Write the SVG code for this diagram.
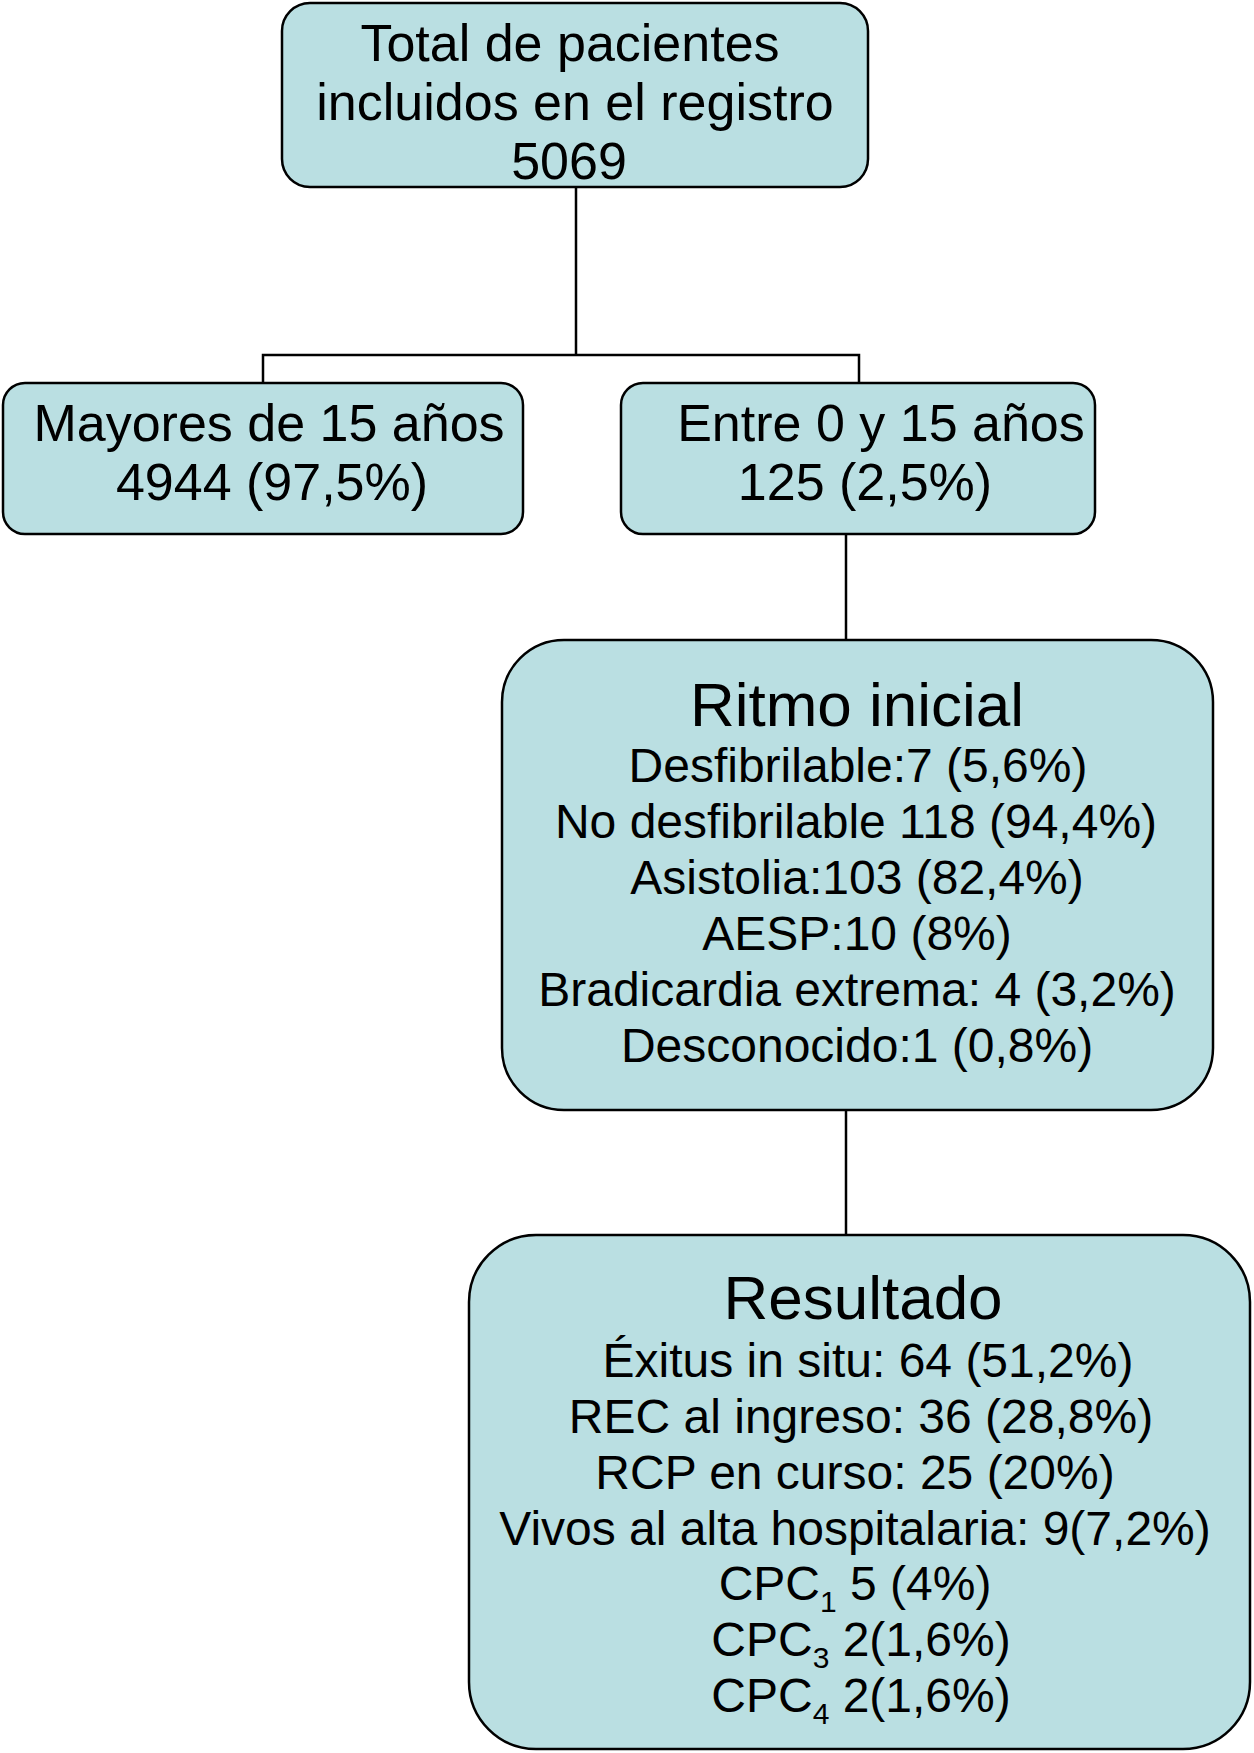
<svg xmlns="http://www.w3.org/2000/svg" width="1254" height="1753" viewBox="0 0 1254 1753">
<style>
.box{fill:#badfe2;stroke:#000;stroke-width:2.5}
.t{font-family:"Liberation Sans",Arial,sans-serif;font-size:52px;fill:#000;text-anchor:middle}
.b{font-family:"Liberation Sans",Arial,sans-serif;font-size:48px;fill:#000;text-anchor:middle}
.h{font-family:"Liberation Sans",Arial,sans-serif;font-size:62px;fill:#000;text-anchor:middle}
.sub{font-size:30px}
.c{fill:none;stroke:#000;stroke-width:2.5}
</style>
<rect width="1254" height="1753" fill="#fff"/>
<g id="connectors">
<path class="c" d="M576 187 V355 M263 383 V355 H859 V383"/>
<path class="c" d="M846 534 V640"/>
<path class="c" d="M846 1110 V1235"/>
</g>
<g id="total">
<rect class="box" x="282" y="3" width="586" height="184" rx="28"/>
<text class="t" x="570" y="61">Total de pacientes</text>
<text class="t" x="575" y="120">incluidos en el registro</text>
<text class="t" x="569" y="179">5069</text>
</g>
<g id="mayores">
<rect class="box" x="3" y="383" width="520" height="151" rx="22"/>
<text class="t" x="269" y="441">Mayores de 15 años</text>
<text class="t" x="272" y="500">4944 (97,5%)</text>
</g>
<g id="entre">
<rect class="box" x="621" y="383" width="474" height="151" rx="22"/>
<text class="t" x="881" y="441">Entre 0 y 15 años</text>
<text class="t" x="865" y="500">125 (2,5%)</text>
</g>
<g id="ritmo">
<rect class="box" x="502" y="640" width="711" height="470" rx="62"/>
<text class="h" x="857" y="726">Ritmo inicial</text>
<text class="b" x="858" y="782">Desfibrilable:7 (5,6%)</text>
<text class="b" x="856" y="838">No desfibrilable 118 (94,4%)</text>
<text class="b" x="857" y="894">Asistolia:103 (82,4%)</text>
<text class="b" x="857" y="950">AESP:10 (8%)</text>
<text class="b" x="857" y="1006">Bradicardia extrema: 4 (3,2%)</text>
<text class="b" x="857" y="1062">Desconocido:1 (0,8%)</text>
</g>
<g id="resultado">
<rect class="box" x="469" y="1235" width="781" height="514" rx="67"/>
<text class="h" x="863" y="1319">Resultado</text>
<text class="b" x="868" y="1377">Éxitus in situ: 64 (51,2%)</text>
<text class="b" x="861" y="1433">REC al ingreso: 36 (28,8%)</text>
<text class="b" x="855" y="1489">RCP en curso: 25 (20%)</text>
<text class="b" x="855" y="1545">Vivos al alta hospitalaria: 9(7,2%)</text>
<text class="b" x="855" y="1600">CPC<tspan class="sub" dy="12">1</tspan><tspan dy="-12"> 5 (4%)</tspan></text>
<text class="b" x="861" y="1656">CPC<tspan class="sub" dy="12">3</tspan><tspan dy="-12"> 2(1,6%)</tspan></text>
<text class="b" x="861" y="1712">CPC<tspan class="sub" dy="12">4</tspan><tspan dy="-12"> 2(1,6%)</tspan></text>
</g>
</svg>
